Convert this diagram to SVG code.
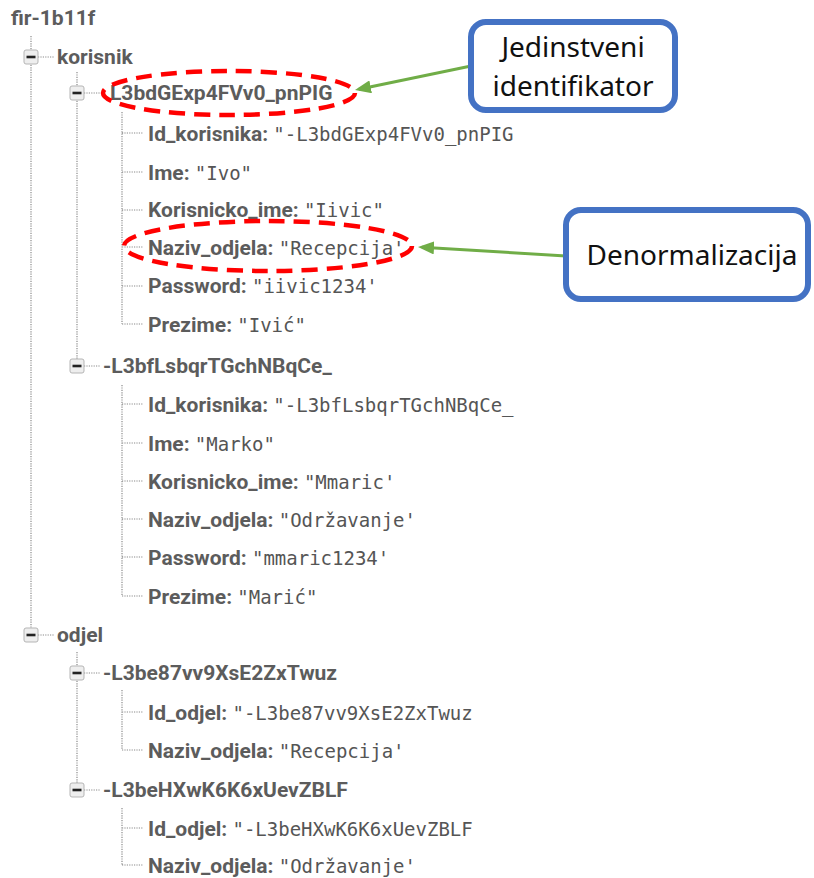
<svg xmlns="http://www.w3.org/2000/svg" width="814" height="878" viewBox="0 0 814 878">
<style>
.k{font-family:Roboto,"Liberation Sans",sans-serif;font-weight:bold;font-size:21px;fill:#5c5c5c}
.v{font-family:"DejaVu Sans Mono","Liberation Mono",monospace;font-weight:normal;font-size:19px;fill:#555}
.tl{fill:none;stroke:#8a8a8a;stroke-width:1.2;stroke-dasharray:1.2 1.2}
.bx{fill:#eeeeee;stroke:#b5b5b5;stroke-width:1}
.mn{fill:#222}
.red{fill:none;stroke:#ff0000;stroke-width:4.5;stroke-dasharray:16 9}
.cb{fill:#fff;stroke:#4472c4;stroke-width:6}
.ct{font-family:"Noto Sans","Open Sans",sans-serif;font-size:28px;fill:#111;text-anchor:middle}
.ar{fill:none;stroke:#70ad47;stroke-width:3}
</style>
<defs>
<marker id="ah" markerWidth="16" markerHeight="13" refX="12" refY="6.5" orient="auto" markerUnits="userSpaceOnUse" viewBox="0 0 16 13">
<path d="M0,0 L16,6.5 L0,13 Z" fill="#70ad47"/>
</marker>
<g id="box"><rect class="bx" x="-7" y="-7" width="14" height="14" rx="2"/><rect class="mn" x="-4.5" y="-1.3" width="9" height="2.6"/></g>
</defs>
<rect width="814" height="878" fill="#fff"/>

<g id="connectors">
<path class="tl" d="M31,36 V628 M38,57 H54 M77,72 V359 M84,93 H100 M122,112 V324 M122,133 H143 M122,172 H143 M122,210 H143 M122,247 H143 M122,286 H143 M122,324 H143 M84,366 H100 M122,385 V596 M122,404 H143 M122,443 H143 M122,481 H143 M122,519 H143 M122,557 H143 M122,596 H143 M38,635 H54 M77,652 V783 M84,673 H100 M122,690 V750 M122,712 H143 M122,750 H143 M84,790 H100 M122,808 V865 M122,828 H143 M122,865 H143"/>
<path class="ar" d="M471,66 L358.9,89.2" marker-end="url(#ah)"/>
<path class="ar" d="M566,256 L422,247.2" marker-end="url(#ah)"/>
</g>

<g id="root"><text class="k" x="11" y="25">fir-1b11f</text></g>

<g id="korisnik"><use href="#box" x="31" y="57"/><text class="k" x="57" y="64">korisnik</text></g>

<g id="u1"><use href="#box" x="77" y="93"/><text class="k" x="110" y="100">L3bdGExp4FVv0_pnPIG</text></g>
<g id="u1-id"><text class="k" x="148" y="141">Id_korisnika: <tspan class="v">"-L3bdGExp4FVv0_pnPIG</tspan></text></g>
<g id="u1-ime"><text class="k" x="148" y="180">Ime: <tspan class="v">"Ivo"</tspan></text></g>
<g id="u1-kor"><text class="k" x="148" y="217">Korisnicko_ime: <tspan class="v">"Iivic"</tspan></text></g>
<g id="u1-naz"><text class="k" x="148" y="255">Naziv_odjela: <tspan class="v">"Recepcija'</tspan></text></g>
<g id="u1-pass"><text class="k" x="148" y="293">Password: <tspan class="v">"iivic1234'</tspan></text></g>
<g id="u1-prez"><text class="k" x="148" y="332">Prezime: <tspan class="v">"Ivić"</tspan></text></g>

<g id="u2"><use href="#box" x="77" y="366"/><text class="k" x="103" y="373">-L3bfLsbqrTGchNBqCe_</text></g>
<g id="u2-id"><text class="k" x="148" y="412">Id_korisnika: <tspan class="v">"-L3bfLsbqrTGchNBqCe_</tspan></text></g>
<g id="u2-ime"><text class="k" x="148" y="451">Ime: <tspan class="v">"Marko"</tspan></text></g>
<g id="u2-kor"><text class="k" x="148" y="489">Korisnicko_ime: <tspan class="v">"Mmaric'</tspan></text></g>
<g id="u2-naz"><text class="k" x="148" y="527">Naziv_odjela: <tspan class="v">"Održavanje'</tspan></text></g>
<g id="u2-pass"><text class="k" x="148" y="565">Password: <tspan class="v">"mmaric1234'</tspan></text></g>
<g id="u2-prez"><text class="k" x="148" y="604">Prezime: <tspan class="v">"Marić"</tspan></text></g>

<g id="odjel"><use href="#box" x="31" y="635"/><text class="k" x="57" y="642">odjel</text></g>
<g id="o1"><use href="#box" x="77" y="673"/><text class="k" x="103" y="680">-L3be87vv9XsE2ZxTwuz</text></g>
<g id="o1-id"><text class="k" x="148" y="720">Id_odjel: <tspan class="v">"-L3be87vv9XsE2ZxTwuz</tspan></text></g>
<g id="o1-naz"><text class="k" x="148" y="758">Naziv_odjela: <tspan class="v">"Recepcija'</tspan></text></g>
<g id="o2"><use href="#box" x="77" y="790"/><text class="k" x="103" y="797">-L3beHXwK6K6xUevZBLF</text></g>
<g id="o2-id"><text class="k" x="148" y="836">Id_odjel: <tspan class="v">"-L3beHXwK6K6xUevZBLF</tspan></text></g>
<g id="o2-naz"><text class="k" x="148" y="873">Naziv_odjela: <tspan class="v">"Održavanje'</tspan></text></g>

<g id="hl1"><ellipse class="red" cx="229" cy="93" rx="126" ry="22"/></g>
<g id="hl2"><ellipse class="red" cx="268" cy="246" rx="144" ry="25"/></g>

<g id="callout1"><rect class="cb" x="471" y="22" width="204" height="88" rx="15"/><text class="ct" x="573" y="57">Jedinstveni</text><text class="ct" x="573" y="96">identifikator</text></g>
<g id="callout2"><rect class="cb" x="566" y="210" width="242" height="89" rx="15"/><text class="ct" x="692" y="265">Denormalizacija</text></g>
</svg>
